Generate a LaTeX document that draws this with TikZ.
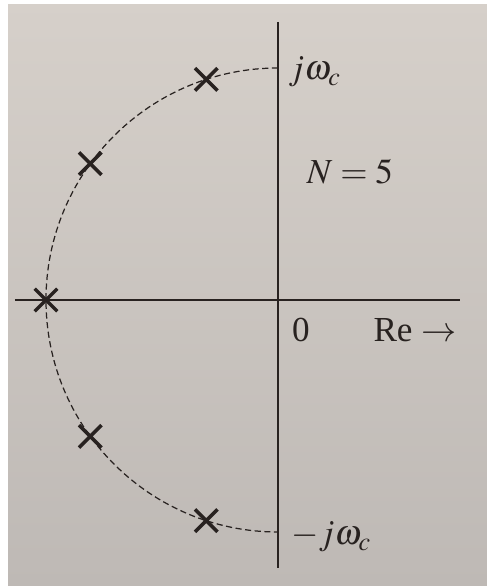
\documentclass[tikz,border=0pt]{standalone}
\usepackage{mathptmx}
\usepackage{fontspec}
\setmainfont{Liberation Serif}
\usepackage{xcolor}
\usetikzlibrary{shapes.misc,positioning}
\definecolor{papertop}{RGB}{214,208,202}
\definecolor{paperbot}{RGB}{190,185,181}
\definecolor{ink}{RGB}{40,34,32}

\begin{document}
\begin{tikzpicture}[
  pole/.style={cross out, draw=ink, line width=2pt, minimum size=0.38cm, inner sep=0pt},
  ax/.style={draw=ink, line width=1.3pt},
  lbl/.style={text=ink, font=\fontsize{20}{24}\selectfont, inner sep=0pt}
]
% paper
\shade[top color=papertop, bottom color=paperbot] (-5.56,-5.72) rectangle (4.18,6.00);
\fill[white] (-5.56,-5.72) rectangle (-5.40,6.00);
\fill[white] (-5.56,5.92) rectangle (4.18,6.00);
\useasboundingbox (-5.56,-5.72) rectangle (4.18,6.00);

\coordinate (o) at (0,0);
\coordinate (ytop) at (0,5.56);
\coordinate (ybot) at (0,-5.36);
\coordinate (xleft) at (-5.26,0);
\coordinate (xright) at (3.64,0);
\coordinate (wc) at (90:4.64);

% axes
\draw[ax] (ytop) -- (ybot);
\draw[ax] (xleft) -- (xright);

% unit circle, left half
\draw[ink, line width=0.7pt, dash pattern=on 3.5pt off 2pt]
  (wc) arc[start angle=90, end angle=270, radius=4.64] coordinate (mwc);

% poles
\foreach \a/\n in {108/1,144/2,180/3,216/4,252/5}
  \node[pole] (p\n) at (\a:4.64) {};

% labels
\node[lbl, anchor=west] (jw) at (0.2,4.56) {$j\omega_c$};
\node[lbl] (nn) at (1.44,2.56) {$N=5$};
\node[lbl] (zero) at (0.46,-0.6) {0};
\node[lbl] (re) at (2.74,-0.6) {Re $\rightarrow$};
\node[lbl, anchor=west] (mjw) at (0.26,-4.74) {$-j\omega_c$};
\end{tikzpicture}
\end{document}
